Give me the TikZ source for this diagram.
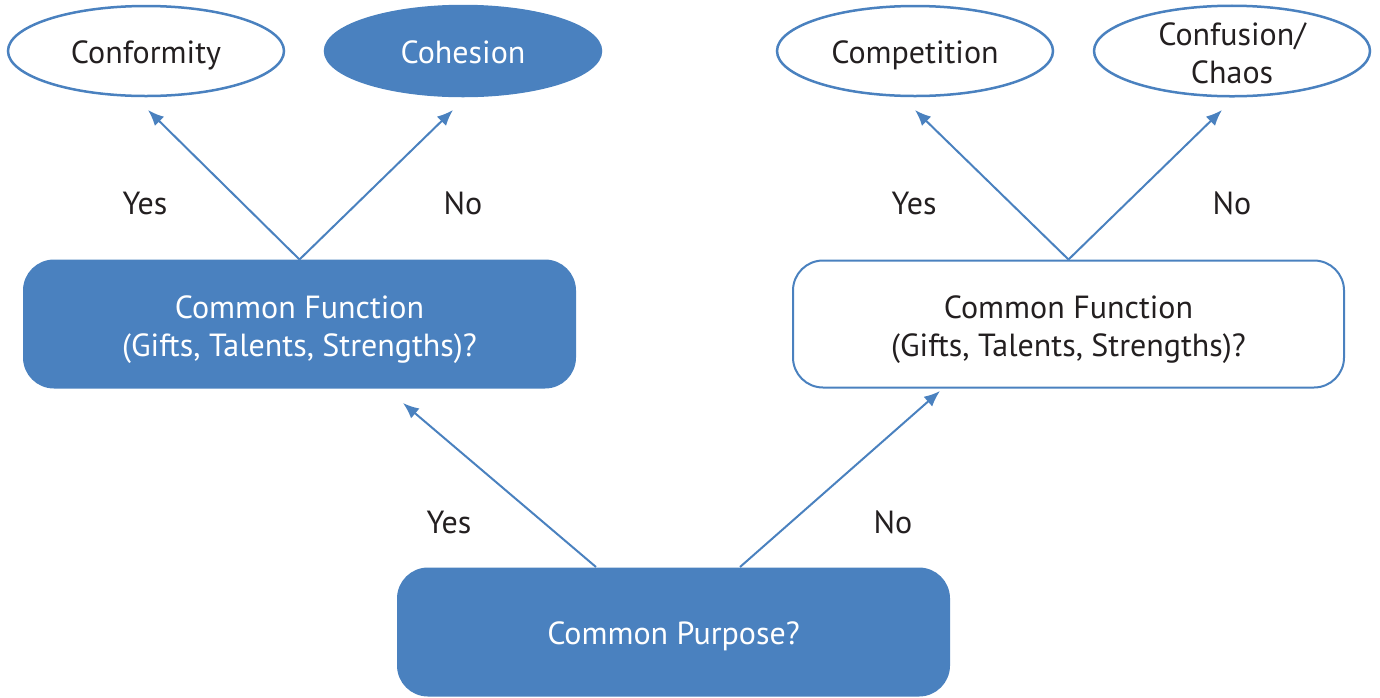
\documentclass[tikz,border=0pt]{standalone}
\usepackage{fontspec}
\setmainfont{PT Sans}
\usetikzlibrary{shapes.geometric,arrows.meta}
\definecolor{flowblue}{RGB}{74,129,191}
\definecolor{inktext}{RGB}{35,31,32}

\begin{document}
\begin{tikzpicture}[x=1pt,y=-1pt,
    every node/.style={font=\fontsize{32}{38}\selectfont},
    outcome/.style={ellipse,draw=flowblue,line width=2.5pt,minimum width=276pt,minimum height=90pt,inner sep=0pt,align=center,text=inktext},
    question/.style={rectangle,rounded corners=30pt,draw=flowblue,line width=2pt,minimum width=551pt,minimum height=127pt,align=center,text=inktext},
    one line/.style={text height=24pt,text depth=0pt},
    two lines/.style={text height=64pt,text depth=0pt},
    solid fill/.style={fill=flowblue,text=white},
    branch/.style={draw=flowblue,line width=2pt,-{Latex[length=16pt,width=13pt]}},
    answer/.style={text=inktext}]
    \useasboundingbox (0,0) rectangle (1380,697);

    % Outcomes on top
    \node[outcome,one line] (conformity) at (146,51) {Conformity};
    \node[outcome,one line,solid fill] (cohesion) at (463,51) {Cohesion};
    \node[outcome,one line] (competition) at (915,51) {Competition};
    \node[outcome,two lines] (confusion) at (1232,51) {Confusion/\\Chaos};

    % Questions
    \node[question,two lines,solid fill] (funcL) at (299.5,324) {Common Function\\(Gifts, Talents, Strengths)?};
    \node[question,two lines] (funcR) at (1068.5,324) {Common Function\\(Gifts, Talents, Strengths)?};
    \node[question,one line,solid fill] (purpose) at (673.5,632) {Common Purpose?};

    % Free ends of the arrows
    \coordinate (toConf) at (148,110);
    \coordinate (toCoh) at (453,110);
    \coordinate (toComp) at (915,110);
    \coordinate (toChaos) at (1222,110);
    \coordinate (toFuncL) at (403,403);
    \coordinate (toFuncR) at (940,391);
    \coordinate (fromYes) at (596,567);
    \coordinate (fromNo) at (740,567);

    % Arrows
    \draw[branch] (funcL.north) -- (toConf);
    \draw[branch] (funcL.north) -- (toCoh);
    \draw[branch] (funcR.north) -- (toComp);
    \draw[branch] (funcR.north) -- (toChaos);
    \draw[branch] (fromYes) -- (toFuncL);
    \draw[branch] (fromNo) -- (toFuncR);

    % Labels
    \node[answer] (yesL) at (145,203) {Yes};
    \node[answer] (noL) at (463,203) {No};
    \node[answer] (yesR) at (914,203) {Yes};
    \node[answer] (noR) at (1232,203) {No};
    \node[answer] (yesP) at (449,522) {Yes};
    \node[answer] (noP) at (893,522) {No};

\end{tikzpicture}
\end{document}
